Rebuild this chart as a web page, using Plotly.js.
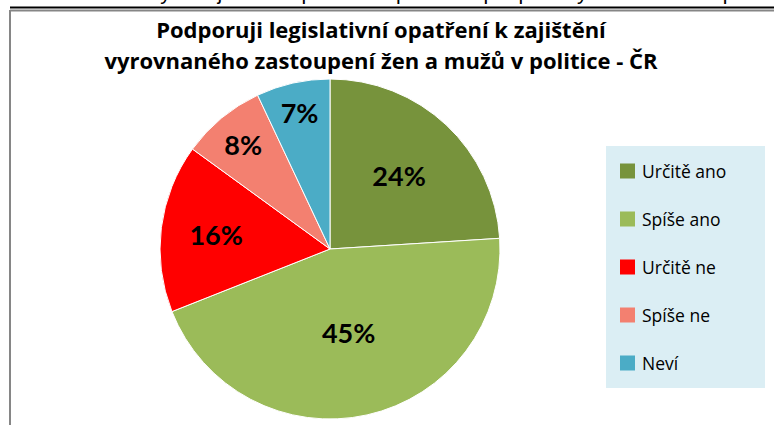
<!DOCTYPE html>
<html>
<head>
<meta charset="utf-8">
<script src="https://cdn.plot.ly/plotly-3.0.1.min.js"></script>
<style>html,body{margin:0;padding:0;background:#fff;}#chart{width:774px;height:425px;}</style>
</head>
<body>
<div id="chart"></div>
<script>
const categories = ["Určitě ano", "Spíše ano", "Určitě ne", "Spíše ne", "Neví"];
const values = [24, 45, 16, 8, 7];
const colors = ["#77933C", "#9BBB59", "#FF0000", "#F38070", "#4BACC6"];
const titleLines = ["Podporuji legislativní opatření k zajištění", "vyrovnaného zastoupení žen a mužů v politice - ČR"];
const headerText = "Graf č. 1: Názory veřejnosti na pozitivní opatření k podpoře vysokého zastoupení žen v politice";

const W = 774, H = 425;
const px = x => x / W;
const py = y => 1 - y / H;

const trace = {
  type: "pie",
  labels: categories,
  values: values,
  sort: false,
  direction: "clockwise",
  rotation: 0,
  marker: {colors: colors, line: {color: "#ffffff", width: 1}},
  texttemplate: "%{value}%",
  textposition: "inside",
  insidetextorientation: "horizontal",
  textfont: {family: "Lato", size: 27, color: "#000000", weight: "bold"},
  hoverinfo: "label+percent",
  showlegend: false,
  domain: {x: [px(160), px(500)], y: [py(419), py(79)]}
};

const shapes = [
  {type: "line", xref: "paper", yref: "paper", x0: px(10), x1: px(774), y0: py(10.5), y1: py(10.5), line: {color: "#868686", width: 2}},
  {type: "line", xref: "paper", yref: "paper", x0: px(10), x1: px(10), y0: py(10), y1: py(425), line: {color: "#868686", width: 2}},
  {type: "line", xref: "paper", yref: "paper", x0: px(10), x1: px(774), y0: py(7.5), y1: py(7.5), line: {color: "#000000", width: 2}},
  {type: "rect", xref: "paper", yref: "paper", x0: px(606), x1: px(765), y0: py(388), y1: py(146), fillcolor: "#DBEEF4", line: {width: 0}, layer: "below"}
];
const annotations = [
  {xref: "paper", yref: "paper", x: px(10), y: py(6.5), xanchor: "left", yanchor: "bottom", showarrow: false,
   text: headerText, font: {family: "Liberation Sans, Arial", size: 21, color: "#000000"}}
];
categories.forEach((c, i) => {
  const yc = 171 + i * 48;
  shapes.push({type: "rect", xref: "paper", yref: "paper", x0: px(620), x1: px(635), y0: py(yc + 7.5), y1: py(yc - 7.5), fillcolor: colors[i], line: {width: 0}});
  annotations.push({xref: "paper", yref: "paper", x: px(640), y: py(yc), xanchor: "left", yanchor: "middle", showarrow: false,
    text: c, font: {family: "Open Sans", size: 17.5, color: "#000000"}});
});

const layout = {
  width: W, height: H,
  margin: {l: 0, r: 0, t: 0, b: 0},
  paper_bgcolor: "#ffffff",
  title: {
    text: titleLines.map(t => '<span style="font-size:22px">' + t + '</span>').join("<br>"),
    font: {family: "Open Sans", size: 24.5, color: "#000000", weight: "bold"},
    x: px(381), xanchor: "center", xref: "paper",
    y: py(37.5), yanchor: "top", yref: "container"
  },
  shapes: shapes,
  annotations: annotations
};

Plotly.newPlot("chart", [trace], layout, {displayModeBar: false, staticPlot: true});
</script>
</body>
</html>
